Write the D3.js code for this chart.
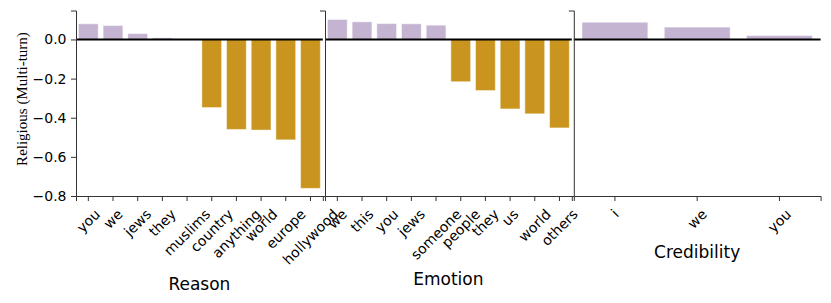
<!DOCTYPE html>
<html>
<head>
<meta charset="utf-8">
<script src="https://cdn.jsdelivr.net/npm/d3@7"></script>
<style>
  body { margin: 0; background: #fff; }
  svg { display: block; }
</style>
</head>
<body>
<div id="chart"></div>
<script>
// word scores per category
const reasonWords = ["you", "we", "jews", "they", "muslims", "country", "anything", "world", "europe", "hollywood"];
const reasonVals = [0.080, 0.071, 0.030, 0.008, 0.001, -0.348, -0.460, -0.463, -0.513, -0.761];

const emotionWords = ["we", "this", "you", "jews", "someone", "people", "they", "us", "world", "others"];
const emotionVals = [0.102, 0.090, 0.081, 0.080, 0.073, -0.216, -0.261, -0.355, -0.380, -0.452];

const credWords = ["i", "we", "you"];
const credVals = [0.088, 0.063, 0.020];

const panelNames = ["Reason", "Emotion", "Credibility"];
const yTicks = [-0.8, -0.6, -0.4, -0.2, 0.0];

const width = 831, height = 303;
const plotTop = 10.5, plotBottom = 196;
const panelLefts = [76, 325, 573.8];
const panelW = 246.8;
const posColor = "#c4b4d2", negColor = "#c9951f";
const font = "DejaVu Sans";

let svg = d3.select("#chart")
    .append("svg")
    .attr("width", width)
    .attr("height", height);

let y = d3.scaleLinear()
    .domain([-0.8, 0.148])
    .range([plotBottom, plotTop]);

let panels = [
    {words: reasonWords, vals: reasonVals},
    {words: emotionWords, vals: emotionVals},
    {words: credWords, vals: credVals}
];

panels.forEach(function(p, i) {
    let g = svg.append("g");
    let x = d3.scaleBand()
        .domain(p.words)
        .range([panelLefts[i], panelLefts[i] + panelW])
        .paddingInner(0.2)
        .paddingOuter(0.1);

    let data = p.words.map(function(w, j) { return {word: w, val: p.vals[j]}; });

    g.selectAll("rect")
        .data(data)
        .enter()
        .append("rect")
        .attr("x", function(d) { return x(d.word); })
        .attr("y", function(d) { return y(Math.max(0, d.val)); })
        .attr("width", x.bandwidth())
        .attr("height", function(d) { return Math.abs(y(d.val) - y(0)); })
        .attr("fill", function(d) { return d.val >= 0 ? posColor : negColor; })
        .attr("stroke", "#fff")
        .attr("stroke-opacity", 0.45)
        .attr("stroke-width", 1);

    // zero line
    g.append("line")
        .attr("x1", panelLefts[i])
        .attr("x2", panelLefts[i] + panelW)
        .attr("y1", y(0))
        .attr("y2", y(0))
        .attr("stroke", "#000")
        .attr("stroke-width", 2);

    // left spine, ticks only on the first panel
    let yAxis = d3.axisLeft(y).tickSizeOuter(0).tickSize(5).tickPadding(4.5);
    if (i == 0) {
        yAxis.tickValues(yTicks).tickFormat(d3.format(".1f"));
    } else {
        yAxis.tickValues([]);
    }
    let ya = g.append("g")
        .attr("transform", `translate(${panelLefts[i]}, 0)`)
        .call(yAxis);
    ya.selectAll("text")
        .style("font-family", font)
        .style("font-size", "14px")
        .attr("fill", "#000");

    // bottom spine + rotated tick labels
    let xa = g.append("g")
        .attr("transform", `translate(0, ${plotBottom})`)
        .call(d3.axisBottom(x).tickSizeOuter(0).tickSize(5));

    let fs = 14;
    let maxBottom = 0;
    xa.selectAll(".tick text")
        .style("font-family", font)
        .style("font-size", fs + "px")
        .attr("fill", "#000")
        .attr("text-anchor", "middle")
        .attr("y", null)
        .attr("dy", "0.35em")
        .each(function() {
            let w = this.getComputedTextLength();
            let half = (w + fs * 1.16) * 0.3536;
            maxBottom = Math.max(maxBottom, 10 + half * 2);
            d3.select(this).attr("transform", `translate(0, ${10 + half}) rotate(-45)`);
        });

    [ya, xa].forEach(function(a) {
        a.selectAll("path, line").attr("stroke", "#333").attr("stroke-width", 1);
    });

    g.append("text")
        .attr("x", panelLefts[i] + panelW / 2)
        .attr("y", plotBottom + maxBottom + 22)
        .attr("text-anchor", "middle")
        .style("font-family", font)
        .style("font-size", "17px")
        .text(panelNames[i]);
});

svg.append("text")
    .attr("transform", "translate(27, 99) rotate(-90)")
    .attr("text-anchor", "middle")
    .style("font-family", "Liberation Serif")
    .style("font-size", "15px")
    .text("Religious (Multi-turn)");
</script>
</body>
</html>
